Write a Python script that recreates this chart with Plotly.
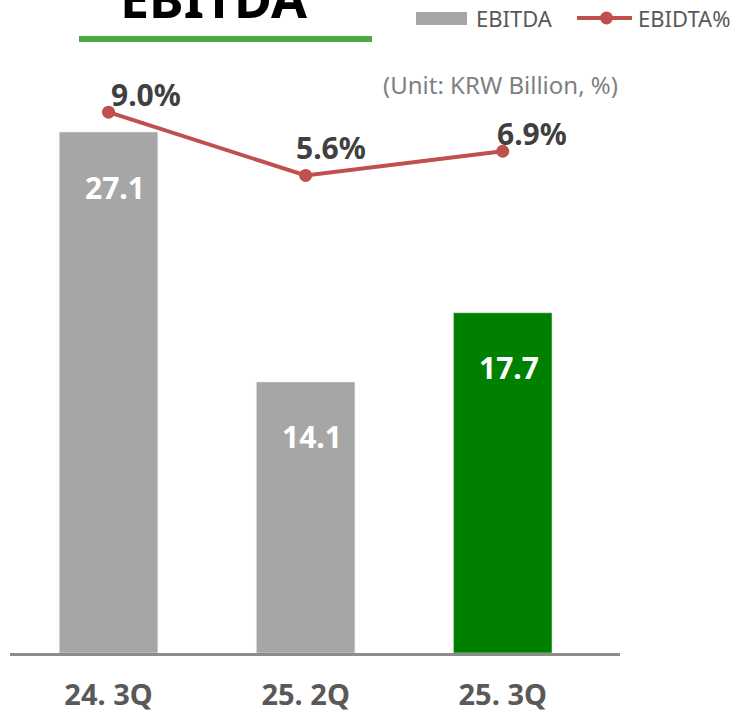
import plotly.graph_objects as go

# data
quarters = ['24. 3Q', '25. 2Q', '25. 3Q']
ebitda = [27.1, 14.1, 17.7]
ebitda_pct = [9.0, 5.6, 6.9]

bar_colors = ['#A6A6A6', '#A6A6A6', '#008000']
line_color = '#C0504D'
FONT = 'Noto Sans'

W, H = 739, 712
L, R, T, B = 10, 119, 0, 59
pw, ph = W - L - R, H - T - B


def px2x(px):
	return (px - L) / pw


def py2y(py):
	return (H - B - py) / ph


fig = go.Figure()

fig.add_trace(go.Bar(
	x=quarters,
	y=ebitda,
	marker_color=bar_colors,
	width=0.5,
	name='EBITDA',
	showlegend=False,
))

fig.add_trace(go.Scatter(
	x=quarters,
	y=ebitda_pct,
	yaxis='y2',
	mode='lines+markers',
	line=dict(color=line_color, width=4),
	marker=dict(color=line_color, size=13),
	name='EBIDTA%',
	showlegend=False,
))

# value labels inside the bars
for q, v in zip(quarters, ebitda):
	fig.add_annotation(
		x=q, y=v, xref='x', yref='y',
		text=f'{v:.1f}', showarrow=False,
		xanchor='center', yanchor='middle',
		xshift=6, yshift=-55,
		font=dict(family=FONT, size=30, color='white', weight='bold'),
	)

# % labels above the line
pct_dx = [37, 25, 29]
pct_dy = [18, 28, 18]
for q, v, dx, dy in zip(quarters, ebitda_pct, pct_dx, pct_dy):
	fig.add_annotation(
		x=q, y=v, xref='x', yref='y2',
		text=f'{v:.1f}%', showarrow=False,
		xanchor='center', yanchor='middle',
		xshift=dx, yshift=dy,
		font=dict(family=FONT, size=30, color='#404040', weight='bold'),
	)

# title, cut off at the top like the original
fig.add_annotation(
	x=px2x(213), y=py2y(-3), xref='paper', yref='paper',
	text='EBITDA', showarrow=False,
	xanchor='center', yanchor='middle',
	font=dict(family=FONT, size=52, color='black', weight='bold'),
)
fig.add_shape(
	type='line', xref='paper', yref='paper',
	x0=px2x(79), x1=px2x(372), y0=py2y(39), y1=py2y(39),
	line=dict(color='#4CA843', width=6),
)

# legend drawn by hand (wide swatches)
fig.add_shape(
	type='rect', xref='paper', yref='paper',
	x0=px2x(416), x1=px2x(467), y0=py2y(25), y1=py2y(12),
	fillcolor='#A6A6A6', line_width=0,
)
fig.add_annotation(
	x=px2x(474), y=py2y(18), xref='paper', yref='paper',
	text='EBITDA', showarrow=False, xanchor='left', yanchor='middle',
	font=dict(family=FONT, size=22, color='#595959'),
)
fig.add_shape(
	type='line', xref='paper', yref='paper',
	x0=px2x(577), x1=px2x(632), y0=py2y(18), y1=py2y(18),
	line=dict(color=line_color, width=4),
)
fig.add_shape(
	type='circle', xref='paper', yref='paper',
	x0=px2x(600), x1=px2x(613), y0=py2y(24.5), y1=py2y(11.5),
	fillcolor=line_color, line_width=0,
)
fig.add_annotation(
	x=px2x(636), y=py2y(18), xref='paper', yref='paper',
	text='EBIDTA%', showarrow=False, xanchor='left', yanchor='middle',
	font=dict(family=FONT, size=22, color='#595959'),
)

# unit note
fig.add_annotation(
	x=px2x(620), y=py2y(85), xref='paper', yref='paper',
	text='(Unit: KRW Billion, %)', showarrow=False,
	xanchor='right', yanchor='middle',
	font=dict(family=FONT, size=24, color='#7F7F7F'),
)

fig.update_xaxes(
	range=[-0.5, 2.595],
	automargin=False,
	showline=True,
	linecolor='#8C8C8C',
	linewidth=3,
	showgrid=False,
	ticks='outside',
	ticklen=14,
	tickcolor='rgba(0,0,0,0)',
	tickfont=dict(family=FONT, size=29, color='#595959', weight='bold'),
)

fig.update_layout(
	width=W,
	height=H,
	margin=dict(l=L, r=R, t=T, b=B),
	plot_bgcolor='white',
	paper_bgcolor='white',
	yaxis=dict(range=[0, 33.97], visible=False, showgrid=False, automargin=False),
	yaxis2=dict(range=[-20.07, 15.03], overlaying='y', visible=False, showgrid=False, automargin=False),
	bargap=0.5,
)

# page has a default 8px body margin; drop it
fig.write_html(
	'out.html',
	config={'displayModeBar': False},
	post_script="document.body.style.margin='0';",
)
